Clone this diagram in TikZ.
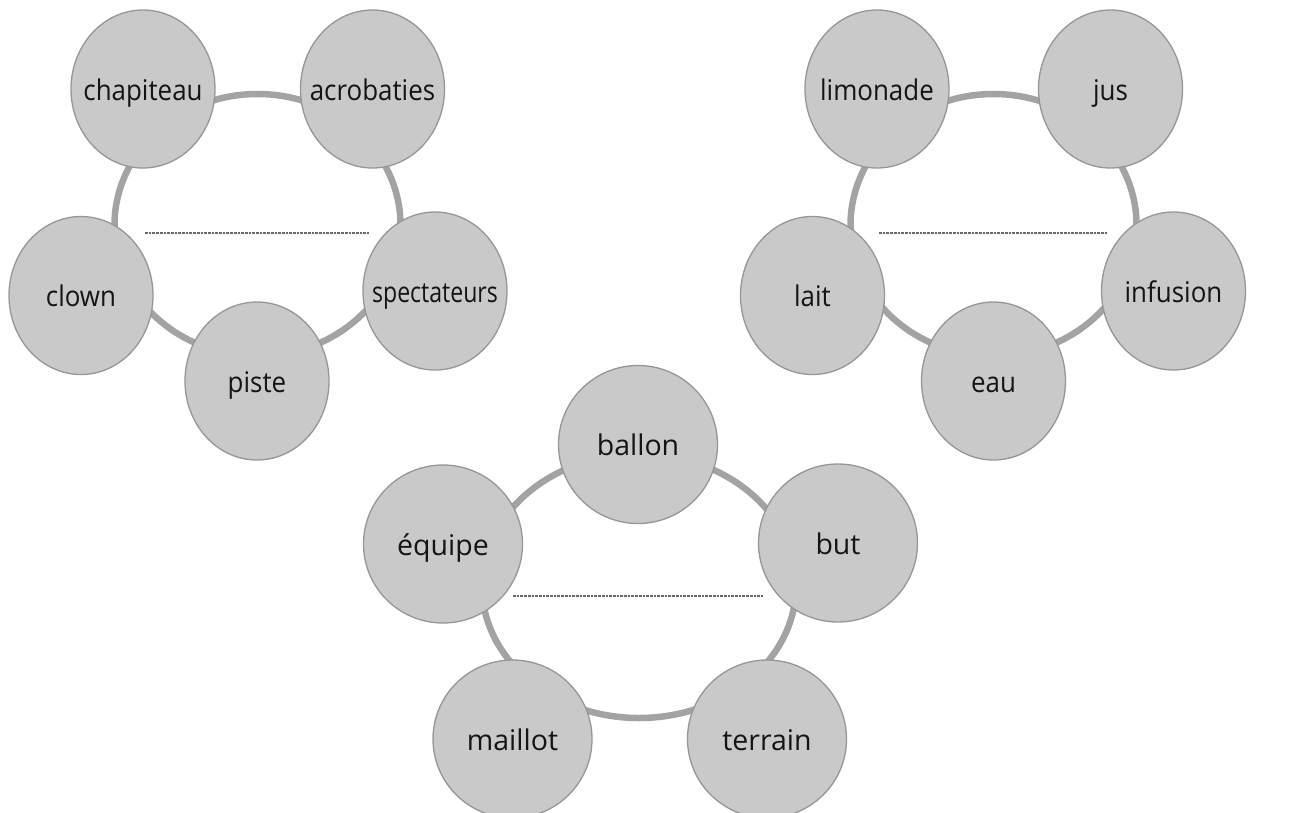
\documentclass[tikz,border=0pt]{standalone}
\usepackage{fontspec}
\setmainfont{Open Sans}
\usetikzlibrary{shapes.geometric}
\definecolor{bubblefill}{RGB}{200,201,200}
\definecolor{bubbleedge}{RGB}{150,150,150}
\definecolor{ringcol}{RGB}{163,163,163}
\definecolor{dotcol}{RGB}{105,105,105}
\definecolor{wordcol}{RGB}{20,20,20}
\newcommand{\sqz}[1]{\scalebox{0.91}[1]{#1}}
\tikzset{
  bubble/.style={ellipse, draw=bubbleedge, fill=bubblefill, line width=1.3pt, inner sep=0pt},
  bubtop/.style={bubble, minimum width=144pt, minimum height=158pt},
  bubbot/.style={bubble, minimum width=159pt, minimum height=158pt},
  word/.style={inner sep=0pt, text=wordcol, font=\fontsize{28.5}{34}\selectfont, text height=24pt, text depth=2pt},
  ring/.style={draw=ringcol, line width=6.5pt},
  blank/.style={draw=dotcol, line width=1.6pt, dash pattern=on 2.7pt off 1pt},
}
\begin{document}
\begin{tikzpicture}[x=1pt, y=-1pt]
\useasboundingbox (0,0) rectangle (1298,812);
% ---------- left group ----------
\coordinate (ringA) at (257.5,225);
\draw[ring] (ringA) ellipse [x radius=143pt, y radius=131pt];
\draw[blank] (145,233) -- (369,233);
\node[bubtop] (chap) at (143,89) {};
\node[bubtop] (acro) at (372.5,89) {};
\node[bubtop] (clown) at (81,295.5) {};
\node[bubtop] (spec) at (435,291) {};
\node[bubtop] (piste) at (257,381) {};
\node[word] (chapT) at (chap) {\sqz{chapiteau}};
\node[word] (acroT) at (acro) {\sqz{acrobaties}};
\node[word] (clownT) at (clown) {\sqz{clown}};
\node[word] (specT) at (spec) {\scalebox{0.81}[1]{spectateurs}};
\node[word] (pisteT) at (piste) {\sqz{piste}};
% ---------- right group ----------
\coordinate (ringB) at (993.5,225);
\draw[ring] (ringB) ellipse [x radius=143pt, y radius=131pt];
\draw[blank] (879,233) -- (1108,233);
\node[bubtop] (limo) at (877,89) {};
\node[bubtop] (jus) at (1110.5,89) {};
\node[bubtop] (lait) at (812.5,295.5) {};
\node[bubtop] (infu) at (1173.5,291) {};
\node[bubtop] (eau) at (993.5,381) {};
\node[word] (limoT) at (limo) {\sqz{limonade}};
\node[word] (jusT) at (jus) {\sqz{jus}};
\node[word] (laitT) at (lait) {\sqz{lait}};
\node[word] (infuT) at (infu) {\sqz{infusion}};
\node[word] (eauT) at (eau) {\sqz{eau}};
% ---------- bottom group ----------
\coordinate (ringC) at (639,586);
\draw[ring] (ringC) ellipse [x radius=157pt, y radius=132pt];
\draw[blank] (513,596) -- (763,596);
\node[bubbot] (ballon) at (638,444.5) {};
\node[bubbot] (equipe) at (443,544) {};
\node[bubbot] (but) at (838,543) {};
\node[bubbot] (maillot) at (512.5,739) {};
\node[bubbot] (terrain) at (767,739) {};
\node[word] (ballonT) at (ballon) {ballon};
\node[word] (equipeT) at (equipe) {équipe};
\node[word] (butT) at (but) {but};
\node[word] (maillotT) at (maillot) {maillot};
\node[word] (terrainT) at (terrain) {terrain};
\end{tikzpicture}
\end{document}
